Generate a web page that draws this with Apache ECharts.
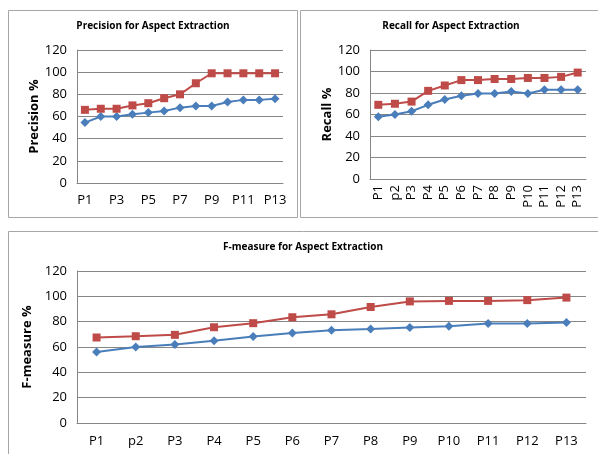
<!DOCTYPE html>
<html>
<head>
<meta charset="utf-8">
<script src="https://cdn.jsdelivr.net/npm/echarts@6/dist/echarts.min.js"></script>
<style>
  html, body { margin: 0; padding: 0; background: #fff; }
  #chart { width: 598px; height: 454px; }
</style>
</head>
<body>
<div id="chart"></div>
<script>
const catsPrec = ['P1', 'P2', 'P3', 'P4', 'P5', 'P6', 'P7', 'P8', 'P9', 'P10', 'P11', 'P12', 'P13'];
const catsOther = ['P1', 'p2', 'P3', 'P4', 'P5', 'P6', 'P7', 'P8', 'P9', 'P10', 'P11', 'P12', 'P13'];
const yTicks = [0, 20, 40, 60, 80, 100, 120];

const precBlue = [54.5, 60, 60, 62, 63.5, 65, 68, 69.5, 69.5, 73, 75, 75, 76];
const precRed = [66, 67, 67, 70, 72, 76.5, 80, 90, 99, 99, 99, 99, 99];
const recBlue = [58, 60, 63, 69, 74, 77.5, 79.5, 79.5, 81.5, 79.5, 83, 83, 83];
const recRed = [69, 70, 72, 82, 87, 92, 92, 93, 93, 94, 94, 95, 99];
const fBlue = [56, 60, 62, 65, 68.3, 71, 73.3, 74.3, 75.4, 76.4, 78.5, 78.5, 79.3];
const fRed = [67.5, 68.5, 69.6, 75.6, 78.8, 83.5, 85.8, 91.6, 96, 96.4, 96.4, 97, 99];

const BLUE = '#4a7ebb';
const RED = '#be4b48';
const FONT = 'Open Sans, Liberation Sans, sans-serif';

const chart = echarts.init(document.getElementById('chart'));

function yAxis(idx, name) {
  return {
    gridIndex: idx,
    type: 'value',
    min: yTicks[0],
    max: yTicks[yTicks.length - 1],
    interval: 20,
    name: name,
    nameLocation: 'middle',
    nameGap: 36,
    nameTextStyle: { fontFamily: FONT, fontWeight: 'bold', fontSize: 13, color: '#000' },
    axisLine: { show: true, lineStyle: { color: '#868686' } },
    axisTick: { show: false },
    axisLabel: { fontFamily: FONT, fontSize: 13, color: '#000', margin: 10 },
    splitLine: { lineStyle: { color: '#868686' } }
  };
}

function xAxis(idx, data, labelOpt) {
  return {
    gridIndex: idx,
    type: 'category',
    data: data,
    boundaryGap: true,
    axisLine: { lineStyle: { color: '#868686' } },
    axisTick: { show: false },
    axisLabel: Object.assign({ fontFamily: FONT, fontSize: 13, color: '#000', margin: 10 }, labelOpt)
  };
}

function pair(idx, blue, red) {
  return [
    {
      type: 'line', xAxisIndex: idx, yAxisIndex: idx, data: blue,
      symbol: 'diamond', symbolSize: 9, color: BLUE,
      lineStyle: { width: 2, color: BLUE }, itemStyle: { color: BLUE }
    },
    {
      type: 'line', xAxisIndex: idx, yAxisIndex: idx, data: red,
      symbol: 'rect', symbolSize: 8, color: RED,
      lineStyle: { width: 2, color: RED }, itemStyle: { color: RED }
    }
  ];
}

const titleStyle = { fontFamily: FONT, fontWeight: 'bold', fontSize: 10, color: '#000' };

const option = {
  animation: false,
  title: [
    { text: 'Precision for Aspect Extraction', left: 153, top: 21, textAlign: 'center', padding: 0, textStyle: titleStyle },
    { text: 'Recall for Aspect Extraction', left: 451, top: 21, textAlign: 'center', padding: 0, textStyle: titleStyle },
    { text: 'F-measure for Aspect Extraction', left: 303, top: 242, textAlign: 'center', padding: 0, textStyle: titleStyle }
  ],
  graphic: [
    { type: 'rect', shape: { x: 8.5, y: 10.5, width: 289, height: 207 }, style: { fill: 'none', stroke: '#a6a6a6', lineWidth: 1 } },
    { type: 'rect', shape: { x: 300.5, y: 10.5, width: 300, height: 207 }, style: { fill: 'none', stroke: '#a6a6a6', lineWidth: 1 } },
    { type: 'rect', shape: { x: 8.5, y: 231.5, width: 600, height: 240 }, style: { fill: 'none', stroke: '#a6a6a6', lineWidth: 1 } }
  ],
  grid: [
    { left: 77, right: 315, top: 50, height: 133 },
    { left: 370, right: 12, top: 50, height: 129 },
    { left: 77, right: 12, top: 271, height: 152 }
  ],
  xAxis: [
    xAxis(0, catsPrec, { interval: 1, margin: 11 }),
    xAxis(1, catsOther, { interval: 0, rotate: 90, margin: 6 }),
    xAxis(2, catsOther, { interval: 0, margin: 12 })
  ],
  yAxis: [
    yAxis(0, 'Precision %'),
    yAxis(1, 'Recall %'),
    yAxis(2, 'F-measure %')
  ],
  series: [].concat(
    pair(0, precBlue, precRed),
    pair(1, recBlue, recRed),
    pair(2, fBlue, fRed)
  )
};

chart.setOption(option);
</script>
</body>
</html>
